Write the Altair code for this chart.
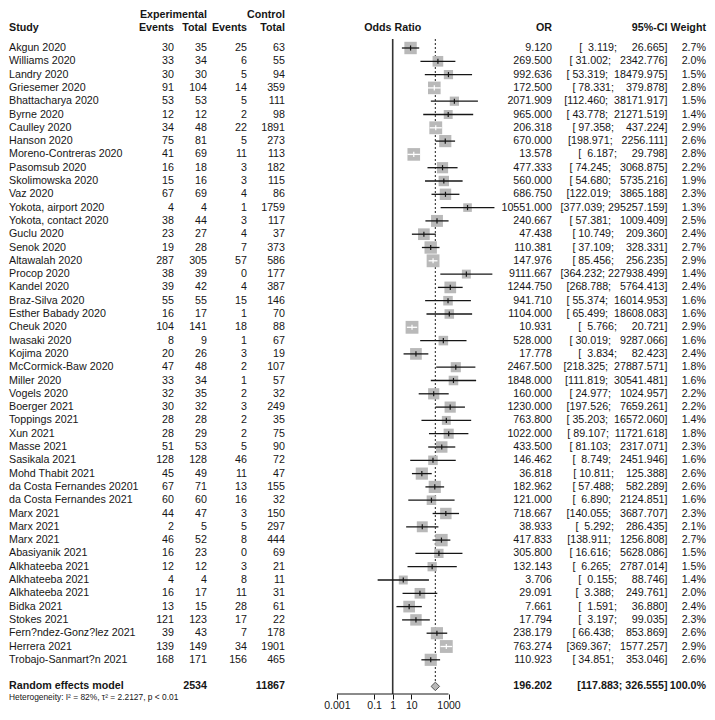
import altair as alt
import pandas as pd
import numpy as np

studies = ["Akgun 2020", "Williams 2020", "Landry 2020", "Griesemer  2020", "Bhattacharya 2020",
           "Byrne 2020", "Caulley 2020", "Hanson 2020", "Moreno-Contreras 2020", "Pasomsub 2020",
           "Skolimowska 2020", "Vaz 2020", "Yokota, airport 2020", "Yokota, contact  2020", "Guclu 2020",
           "Senok 2020", "Altawalah 2020", "Procop 2020", "Kandel 2020", "Braz-Silva 2020",
           "Esther Babady 2020", "Cheuk 2020", "Iwasaki 2020", "Kojima 2020", "McCormick-Baw 2020",
           "Miller 2020", "Vogels 2020", "Boerger 2021", "Toppings 2021", "Xun 2021",
           "Masse 2021", "Sasikala 2021", "Mohd Thabit  2021", "da Costa Fernandes 20201", "da Costa Fernandes 2021",
           "Marx 2021", "Marx 2021", "Marx 2021", "Abasiyanik 2021", "Alkhateeba 2021",
           "Alkhateeba 2021", "Alkhateeba 2021", "Bidka 2021", "Stokes 2021", "Fern?ndez-Gonz?lez 2021",
           "Herrera 2021", "Trobajo-Sanmart?n 2021"]
e_events = [30, 33, 30, 91, 53, 12, 34, 75, 41, 16, 15, 67, 4, 38, 23, 19, 287, 38, 39, 55, 16, 104, 8, 20,
            47, 33, 32, 30, 28, 28, 51, 128, 45, 67, 60, 44, 2, 46, 16, 12, 4, 16, 13, 121, 39, 139, 168]
e_total = [35, 34, 30, 104, 53, 12, 48, 81, 69, 18, 16, 69, 4, 44, 27, 28, 305, 39, 42, 55, 17, 141, 9, 26,
           48, 34, 35, 32, 28, 29, 53, 128, 49, 71, 60, 47, 5, 52, 23, 12, 4, 17, 15, 123, 43, 149, 171]
c_events = [25, 6, 5, 14, 5, 2, 22, 5, 11, 3, 3, 4, 1, 3, 4, 7, 57, 0, 4, 15, 1, 18, 1, 3,
            2, 1, 2, 3, 2, 2, 5, 46, 11, 13, 16, 3, 5, 8, 0, 3, 8, 11, 28, 17, 7, 34, 156]
c_total = [63, 55, 94, 359, 111, 98, 1891, 273, 113, 182, 115, 86, 1759, 117, 37, 373, 586, 177, 387, 146,
           70, 88, 67, 19, 107, 57, 32, 249, 35, 75, 90, 72, 47, 155, 32, 150, 297, 444, 69, 21, 11, 31,
           61, 22, 178, 1901, 465]
odds = [9.120, 269.500, 992.636, 172.500, 2071.909, 965.000, 206.318, 670.000, 13.578, 477.333,
        560.000, 686.750, 10551.000, 240.667, 47.438, 110.381, 147.976, 9111.667, 1244.750, 941.710,
        1104.000, 10.931, 528.000, 17.778, 2467.500, 1848.000, 160.000, 1230.000, 763.800, 1022.000,
        433.500, 146.462, 36.818, 182.962, 121.000, 718.667, 38.933, 417.833, 305.800, 132.143,
        3.706, 29.091, 7.661, 17.794, 238.179, 763.274, 110.923]
lower = [3.119, 31.002, 53.319, 78.331, 112.460, 43.778, 97.358, 198.971, 6.187, 74.245,
         54.680, 122.019, 377.039, 57.381, 10.749, 37.109, 85.456, 364.232, 268.788, 55.374,
         65.499, 5.766, 30.019, 3.834, 218.325, 111.819, 24.977, 197.526, 35.203, 89.107,
         81.103, 8.749, 10.811, 57.488, 6.890, 140.055, 5.292, 138.911, 16.616, 6.265,
         0.155, 3.388, 1.591, 3.197, 66.438, 369.367, 34.851]
upper = [26.665, 2342.776, 18479.975, 379.878, 38171.917, 21271.519, 437.224, 2256.111, 29.798, 3068.875,
         5735.216, 3865.188, 295257.159, 1009.409, 209.360, 328.331, 256.235, 227938.499, 5764.413, 16014.953,
         18608.083, 20.721, 9287.066, 82.423, 27887.571, 30541.481, 1024.957, 7659.261, 16572.060, 11721.618,
         2317.071, 2451.946, 125.388, 582.289, 2124.851, 3687.707, 286.435, 1256.808, 5628.086, 2787.014,
         88.746, 249.761, 36.880, 99.035, 853.869, 1577.257, 353.046]
weight = [2.7, 2.0, 1.5, 2.8, 1.5, 1.4, 2.9, 2.6, 2.8, 2.2, 1.9, 2.3, 1.3, 2.5, 2.4, 2.7, 2.9, 1.4, 2.4, 1.6,
          1.6, 2.9, 1.6, 2.4, 1.8, 1.6, 2.2, 2.2, 1.4, 1.8, 2.3, 1.6, 2.6, 2.6, 1.6, 2.3, 2.1, 2.7, 1.5, 1.5,
          1.4, 2.0, 2.4, 2.3, 2.6, 2.9, 2.6]

pooled_label = "Random effects model"
pooled_e_total = 2534
pooled_c_total = 11867
pooled_or = 196.202
pooled_lower = 117.883
pooled_upper = 326.555
pooled_weight = 100.0
heterogeneity = "Heterogeneity: I\u00b2 = 82%, \u03c4\u00b2 = 2.2127, p < 0.01"
axis_ticks = [0.001, 0.1, 1, 10, 1000]

FONT = "Liberation Sans"
FS = 10.7
INK = "#161616"
GRAY = "#b9b9b9"
NB = "\u00a0"


def ci_fmt(lo, hi, pad=True):
    a, b = f"{lo:.3f}", f"{hi:.3f}"
    if pad:
        a = NB * (7 - len(a)) + a
        b = NB * (10 - len(b)) + b
    return "[" + a + "; " + b + "]"


n = len(studies)
df = pd.DataFrame({
    "row": list(range(n)), "study": studies, "e_ev": e_events, "e_tot": e_total,
    "c_ev": c_events, "c_tot": c_total, "or": odds, "lower": lower, "upper": upper, "weight": weight,
})
df["or_txt"] = [f"{v:.3f}" for v in odds]
df["ci_txt"] = [ci_fmt(a, b) for a, b in zip(lower, upper)]
df["w_txt"] = [f"{w:.1f}%" for w in weight]
df["inside"] = (np.log10(np.array(upper) / np.array(lower)) < 0.8)

pooled = pd.DataFrame({
    "row": [n + 1], "study": [pooled_label], "e_tot": [pooled_e_total], "c_tot": [pooled_c_total],
    "or": [pooled_or], "lower": [pooled_lower], "upper": [pooled_upper],
    "or_txt": [f"{pooled_or:.3f}"], "ci_txt": [ci_fmt(pooled_lower, pooled_upper, pad=False)],
    "w_txt": [f"{pooled_weight:.1f}%"],
})

yscale = alt.Scale(domain=[0, n + 1], range=[40, 678.4], nice=False, zero=False)
xscale = alt.Scale(type="log", domain=[1e-4, 1e6], range=[310.3, 496.3], nice=False)
AX = alt.Axis(values=axis_ticks, format="~g", domain=False, grid=False, ticks=True, tickSize=5,
              tickColor=INK, tickWidth=1, labelFont=FONT, labelFontSize=10.5, labelColor=INK,
              labelPadding=1, title=None, labelFlush=False, labelOverlap=False)
Y = alt.Y("row:Q", scale=yscale, axis=None)


def col(data, field, xpos, align="right", bold=False):
    return alt.Chart(data).mark_text(align=align, baseline="middle", font=FONT, fontSize=FS, color=INK,
                                     fontWeight="bold" if bold else "normal").encode(
        x=alt.value(xpos), y=Y, text=alt.Text(f"{field}:N"))


def label(txt, xpos, ypos, align="right", bold=True, size=FS):
    return alt.Chart(pd.DataFrame({"a": [0]})).mark_text(
        text=txt, align=align, baseline="middle", font=FONT, fontSize=size, color=INK,
        fontWeight="bold" if bold else "normal").encode(x=alt.value(xpos), y=alt.value(ypos))


X_EV, X_ET, X_CE, X_CT = 166, 199, 239, 277
X_OR, X_CI, X_W = 544, 659.5, 698

layers = []
# headers
layers += [label("Experimental", X_ET, 7), label("Control", X_CT, 7),
           label("Study", 1, 19.5, align="left"), label("Events", X_EV, 19.5), label("Total", X_ET, 19.5),
           label("Events", X_CE, 19.5), label("Total", X_CT, 19.5),
           label("Odds Ratio", 384.7, 19.5, align="center"),
           label("OR", X_OR, 19.5), label("95%-CI", X_CI, 19.5), label("Weight", X_W, 19.5)]
# study rows
layers += [col(df, "study", 1, "left"), col(df, "e_ev", X_EV), col(df, "e_tot", X_ET), col(df, "c_ev", X_CE),
           col(df, "c_tot", X_CT), col(df, "or_txt", X_OR), col(df, "ci_txt", X_CI), col(df, "w_txt", X_W)]
# pooled row
layers += [col(pooled, "study", 1, "left", True), col(pooled, "e_tot", X_ET, bold=True),
           col(pooled, "c_tot", X_CT, bold=True), col(pooled, "or_txt", X_OR, bold=True),
           col(pooled, "ci_txt", X_CI, bold=True), col(pooled, "w_txt", X_W, bold=True)]
layers.append(label(heterogeneity, 1, 689, align="left", bold=False, size=8.4))

# reference lines
one = pd.DataFrame({"x": [1.0]})
layers.append(alt.Chart(one).mark_rule(color="#333", strokeWidth=1.6).encode(
    x=alt.X("x:Q", scale=xscale, axis=AX), y=alt.value(31), y2=alt.value(686)))
layers.append(alt.Chart(pooled).mark_rule(color="#333", strokeWidth=1.1, strokeDash=[2, 2]).encode(
    x=alt.X("or:Q", scale=xscale, axis=AX), y=alt.value(31), y2=alt.value(673)))
axline = pd.DataFrame({"a": [axis_ticks[0]], "b": [axis_ticks[-1]]})
layers.append(alt.Chart(axline).mark_rule(color=INK, strokeWidth=1).encode(
    x=alt.X("a:Q", scale=xscale, axis=AX), x2="b:Q", y=alt.value(686)))

# study squares, CI lines, estimate ticks
layers.append(alt.Chart(df).mark_point(shape="square", filled=True, color=GRAY, opacity=1).encode(
    x=alt.X("or:Q", scale=xscale, axis=AX), y=Y,
    size=alt.Size("weight:Q", scale=alt.Scale(domain=[0, 2.9], range=[0, 165]), legend=None)))
line_col = alt.condition("datum.inside", alt.value("white"), alt.value(INK))
layers.append(alt.Chart(df).mark_rule(strokeWidth=1.3).encode(
    x=alt.X("lower:Q", scale=xscale, axis=AX), x2="upper:Q", y=Y, color=line_col))
layers.append(alt.Chart(df).mark_point(shape="M0,-1L0,1", size=26, strokeWidth=1.2, filled=False, opacity=1).encode(
    x=alt.X("or:Q", scale=xscale, axis=AX), y=Y, color=line_col))

# pooled diamond
layers.append(alt.Chart(pooled).mark_point(shape="diamond", filled=True, fill=GRAY, stroke="#555",
                                           strokeWidth=1, size=72, opacity=1).encode(
    x=alt.X("or:Q", scale=xscale, axis=AX), y=Y))

chart = alt.layer(*layers).properties(
    width=699, height=686,
    padding={"left": 0, "right": 0, "top": 0, "bottom": 17},
    autosize=alt.AutoSizeParams(type="none"),
).configure_view(stroke=None)

chart.save("out.html", embed_options={"renderer": "svg", "actions": False})
